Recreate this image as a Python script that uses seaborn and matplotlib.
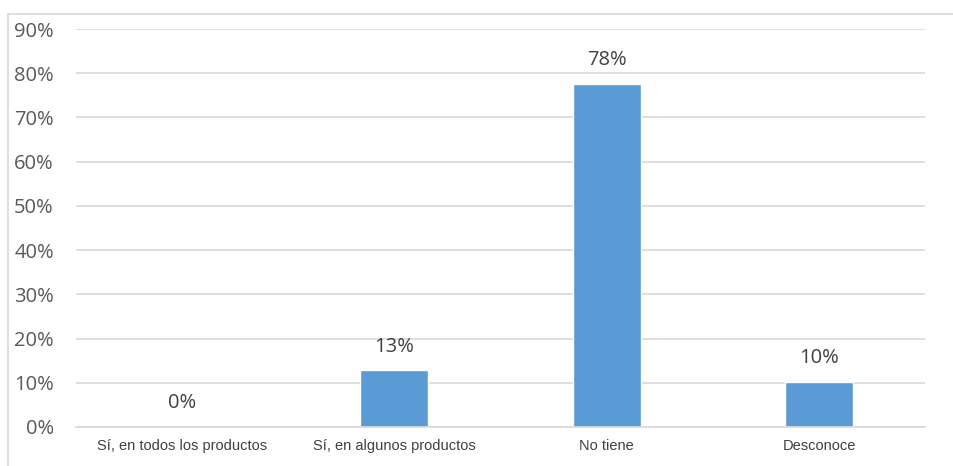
import matplotlib
matplotlib.use("Agg")
import matplotlib.pyplot as plt
import seaborn as sns
import pandas as pd
from matplotlib.lines import Line2D

categorias = ["Sí, en todos los productos", "Sí, en algunos productos", "No tiene", "Desconoce"]
valores = [0.0, 0.128, 0.776, 0.102]
etiquetas = ["0%", "13%", "78%", "10%"]
yticks = [0, 0.1, 0.2, 0.3, 0.4, 0.5, 0.6, 0.7, 0.8, 0.9]

df = pd.DataFrame({"cat": categorias, "val": valores})

sns.set_style("white")
plt.rcParams['font.family'] = ['Liberation Sans', 'DejaVu Sans']

fig = plt.figure(figsize=(9.54, 4.66), dpi=100)
ax = fig.add_axes([0.0797, 0.0837, 0.89, 0.854])

sns.barplot(data=df, x="cat", y="val", color="#5B9BD5", saturation=1, width=0.32, ax=ax)

ax.set_ylim(0, 0.9)
ax.set_xlim(-0.5, 3.5)
ax.set_yticks(yticks)
ax.set_yticklabels(["%d%%" % round(t * 100) for t in yticks], fontsize=14.5,
                   color="#595959", family=["Open Sans", "DejaVu Sans"])
ax.tick_params(axis="y", length=0, pad=16)
ax.tick_params(axis="x", length=0, pad=9, labelsize=10.5, labelcolor="#404040")
ax.set_xlabel("")
ax.set_ylabel("")
ax.yaxis.grid(True, color="#D9D9D9", linewidth=1.2)
ax.set_axisbelow(True)
for s in ["left", "right", "top"]:
    ax.spines[s].set_visible(False)
ax.spines["bottom"].set_color("#D9D9D9")
ax.spines["bottom"].set_linewidth(1.2)

for i, (v, t) in enumerate(zip(valores, etiquetas)):
    ax.annotate(t, (i, v), xytext=(0, 10), textcoords="offset points",
                ha="center", va="bottom", fontsize=14.5, color="#404040",
                family=["Open Sans", "DejaVu Sans"])

# outer chart-area frame (left and top edges visible in the reference)
fig.add_artist(Line2D([0.0085, 0.0085], [0, 0.97], transform=fig.transFigure, color="#D9D9D9", linewidth=1.2))
fig.add_artist(Line2D([0.0085, 1.0], [0.97, 0.97], transform=fig.transFigure, color="#D9D9D9", linewidth=1.2))

fig.savefig("out.png", dpi=100)
